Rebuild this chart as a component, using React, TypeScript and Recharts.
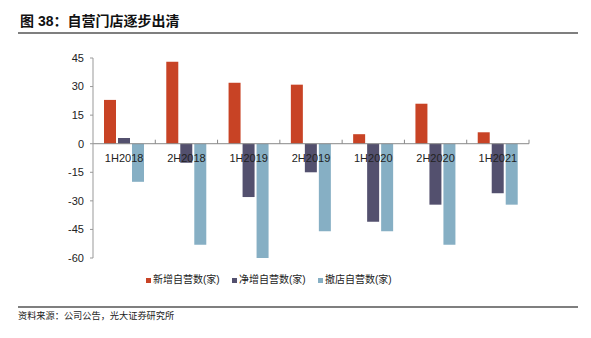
import { BarChart, Bar, XAxis, YAxis, ReferenceLine, Legend } from 'recharts'

const periods = ['1H2018', '2H2018', '1H2019', '2H2019', '1H2020', '2H2020', '1H2021']
const newStores = [23, 43, 32, 31, 5, 21, 6]
const netStores = [3, -10, -28, -15, -41, -32, -26]
const closedStores = [-20, -53, -60, -46, -46, -53, -32]
const yTicks = [-60, -45, -30, -15, 0, 15, 30, 45]
const seriesNames = ['新增自营数(家)', '净增自营数(家)', '撤店自营数(家)']

const data = periods.map((p, i) => ({
  period: p,
  newStores: newStores[i],
  netStores: netStores[i],
  closedStores: closedStores[i]
}))

// plot box (page coords)
const TOP = 58
const LEFT = 93
const PLOT_W = 436
const PLOT_H = 200
const Y_MIN = -60
const Y_MAX = 45
const ZERO_Y = TOP + (PLOT_H * Y_MAX) / (Y_MAX - Y_MIN)
const BAND = PLOT_W / periods.length

const FONT = '"Liberation Sans", "Noto Sans CJK SC", sans-serif'

const CategoryTick = (props: any) => {
  const { x, payload } = props
  return (
    <g>
      <line x1={x + BAND / 2} y1={ZERO_Y} x2={x + BAND / 2} y2={ZERO_Y - 4} stroke="#888" />
      <text x={x} y={ZERO_Y + 18} textAnchor="middle" fontSize={11} fill="#222" fontFamily={FONT}>
        {payload.value}
      </text>
    </g>
  )
}

const LegendContent = (props: any) => {
  const items = [...(props.payload || [])].sort(
    (a: any, b: any) => seriesNames.indexOf(a.value) - seriesNames.indexOf(b.value)
  )
  return (
    <div style={{ display: 'flex', fontFamily: FONT, fontSize: 10, color: '#222', lineHeight: '14px' }}>
      {items.map((it: any) => (
        <div key={it.value} style={{ display: 'flex', alignItems: 'center', width: 86 }}>
          <span style={{ width: 5, height: 5, background: it.color, marginRight: 2, display: 'inline-block' }} />
          <span>{it.value}</span>
        </div>
      ))}
    </div>
  )
}

export default function App() {
  return (
    <div style={{ position: 'absolute', left: 0, top: 0, width: 591, height: 338, background: '#fff' }}>
      <div
        style={{
          position: 'absolute',
          left: 20,
          top: 10,
          fontFamily: FONT,
          fontWeight: 'bold',
          fontSize: 14,
          color: '#111',
          whiteSpace: 'nowrap'
        }}
      >
        图 38：自营门店逐步出清
      </div>
      <div style={{ position: 'absolute', left: 18, top: 32, width: 560, height: 2, background: '#7f7f7f' }} />

      <BarChart
        width={591}
        height={338}
        data={data}
        margin={{ top: TOP, right: 591 - LEFT - PLOT_W, left: 0, bottom: 65 }}
        barCategoryGap={11}
        barGap={2}
      >
        <YAxis
          width={LEFT}
          domain={[Y_MIN, Y_MAX]}
          ticks={yTicks}
          interval={0}
          tick={{ fontSize: 11, fill: '#222', fontFamily: FONT }}
          tickSize={3}
          tickMargin={6}
          stroke="#999"
        />
        <XAxis
          dataKey="period"
          height={1}
          axisLine={false}
          tickLine={false}
          interval={0}
          tick={<CategoryTick />}
        />
        <ReferenceLine y={0} stroke="#888" />
        <Legend
          content={<LegendContent />}
          wrapperStyle={{ top: 273, left: 146, width: 260, height: 14 }}
        />
        <Bar dataKey="newStores" name={seriesNames[0]} fill="#C84325" isAnimationActive={false} />
        <Bar dataKey="netStores" name={seriesNames[1]} fill="#53506E" isAnimationActive={false} />
        <Bar dataKey="closedStores" name={seriesNames[2]} fill="#86AFC4" isAnimationActive={false} />
      </BarChart>

      <div style={{ position: 'absolute', left: 18, top: 306, width: 560, height: 2, background: '#7f7f7f' }} />
      <div
        style={{
          position: 'absolute',
          left: 18,
          top: 308,
          fontFamily: FONT,
          fontSize: 9.2,
          color: '#222',
          whiteSpace: 'nowrap'
        }}
      >
        资料来源：公司公告，光大证券研究所
      </div>
    </div>
  )
}
